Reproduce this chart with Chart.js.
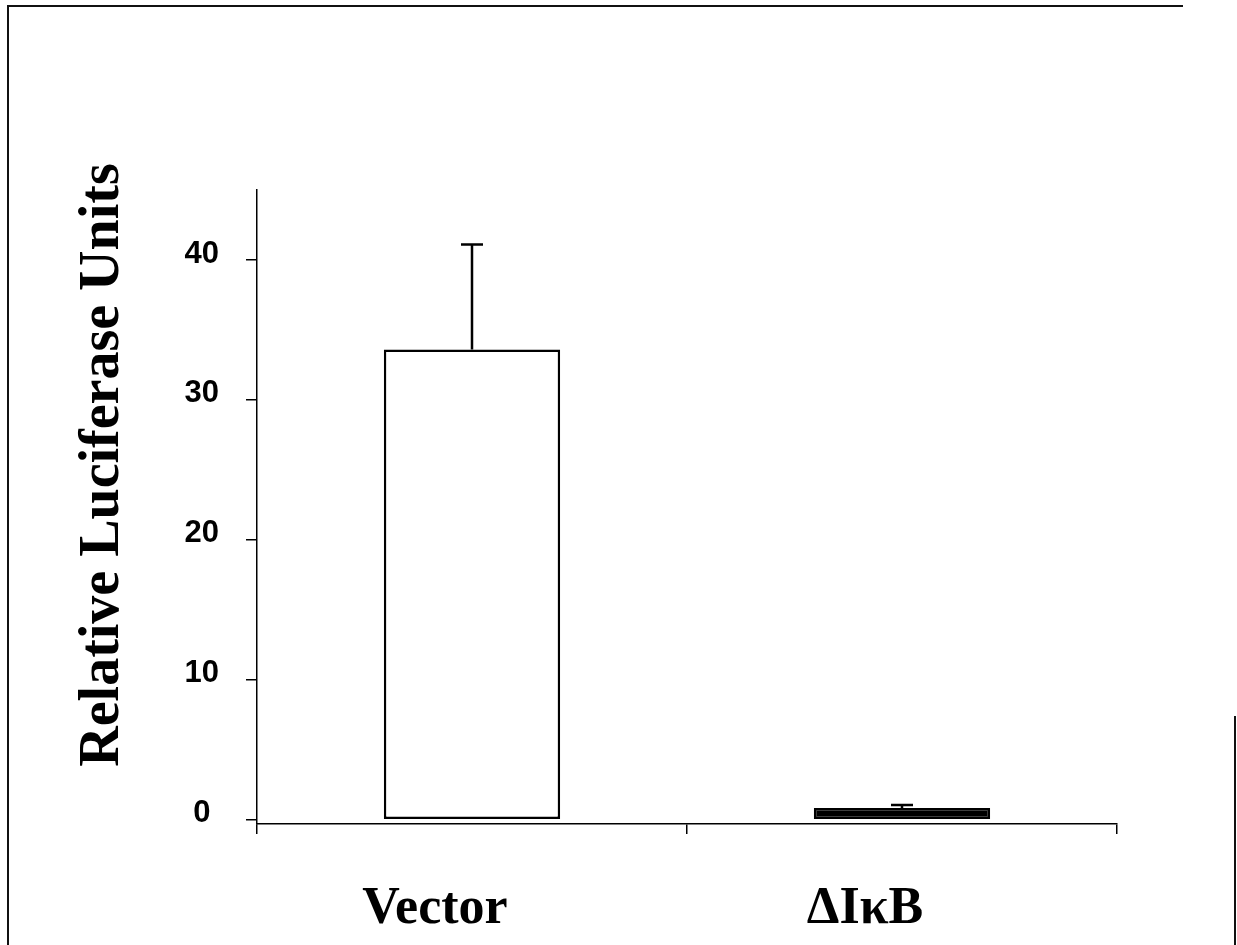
<!DOCTYPE html>
<html>
<head>
<meta charset="utf-8">
<script src="https://cdn.jsdelivr.net/npm/chart.js@4"></script>
<style>
  body { margin: 0; background: #fff; }
  #wrap { position: relative; width: 1237px; height: 945px; overflow: hidden; }
  canvas { position: absolute; left: 0; top: 0; }
  .frame { position: absolute; background: #111; }
</style>
</head>
<body>
<div id="wrap">
  <canvas id="lucChart" width="1237" height="945"></canvas>
  <!-- scanned page frame -->
  <div class="frame" style="left:7px;top:5px;width:1176px;height:2px"></div>
  <div class="frame" style="left:7px;top:5px;width:2px;height:940px"></div>
  <div class="frame" style="left:1234px;top:716px;width:2px;height:229px"></div>
</div>
<script>
// values
const groups = ["Vector", "\u0394I\u03baB"];
const means = [33.6, 0.85];
const errors = [7.5, 0.2];
const yTicks = [0, 10, 20, 30, 40];

// simple upward error bars drawn through the chart's scales
const errorBars = {
  id: "errorBars",
  afterDatasetsDraw(chart) {
    const meta = chart.getDatasetMeta(0);
    const y = chart.scales.y;
    const ctx = chart.ctx;
    ctx.save();
    ctx.strokeStyle = "#000";
    ctx.lineWidth = 2.5;
    meta.data.forEach((bar, i) => {
      const yBase = y.getPixelForValue(means[i]);
      const yTop = y.getPixelForValue(means[i] + errors[i]);
      ctx.beginPath();
      ctx.moveTo(bar.x, yBase);
      ctx.lineTo(bar.x, yTop);
      ctx.moveTo(bar.x - 11, yTop);
      ctx.lineTo(bar.x + 11, yTop);
      ctx.stroke();
    });
    ctx.restore();
  }
};

new Chart(document.getElementById("lucChart"), {
  type: "bar",
  data: {
    labels: groups,
    datasets: [{
      data: means,
      backgroundColor: ["#ffffff", "#000000"],
      borderColor: "#000",
      borderWidth: 2.5,
      borderSkipped: false,
      categoryPercentage: 1,
      barPercentage: 0.41
    }]
  },
  options: {
    responsive: false,
    animation: false,
    devicePixelRatio: 1,
    layout: { padding: { left: 0, top: 190, right: 120, bottom: 0 } },
    plugins: { legend: { display: false }, tooltip: { enabled: false } },
    scales: {
      x: {
        afterFit: s => { s.height = 121; },
        grid: {
          offset: true,
          drawOnChartArea: false,
          drawTicks: true,
          tickLength: 10,
          color: "#000",
          lineWidth: 1.5
        },
        border: { display: true, color: "#000", width: 1.5 },
        ticks: {
          color: "#000",
          padding: 44,
          labelOffset: -37,
          font: { family: "'Liberation Serif', 'Times New Roman', serif", size: 52, weight: "bold" }
        }
      },
      y: {
        min: -0.3,
        max: 45,
        afterFit: s => { s.width = 257; },
        afterBuildTicks: s => { s.ticks = yTicks.map(v => ({ value: v })); },
        grid: {
          drawOnChartArea: false,
          drawTicks: true,
          tickLength: 11,
          color: "#000",
          lineWidth: 1.5
        },
        border: { display: true, color: "#000", width: 1.5 },
        ticks: {
          color: "#000",
          padding: 27,
          crossAlign: "center",
          // empty second line lifts the label a few px above its tick, as in the scan
          callback: v => [String(v), ""],
          font: { family: "'Liberation Sans', Arial, sans-serif", size: 31, weight: "bold", lineHeight: "12px" }
        },
        title: {
          display: true,
          text: "      Relative Luciferase Units",
          color: "#000",
          padding: { top: 70, bottom: 0 },
          font: { family: "'Liberation Serif', 'Times New Roman', serif", size: 56, weight: "bold" }
        }
      }
    }
  },
  plugins: [errorBars]
});
</script>
</body>
</html>
